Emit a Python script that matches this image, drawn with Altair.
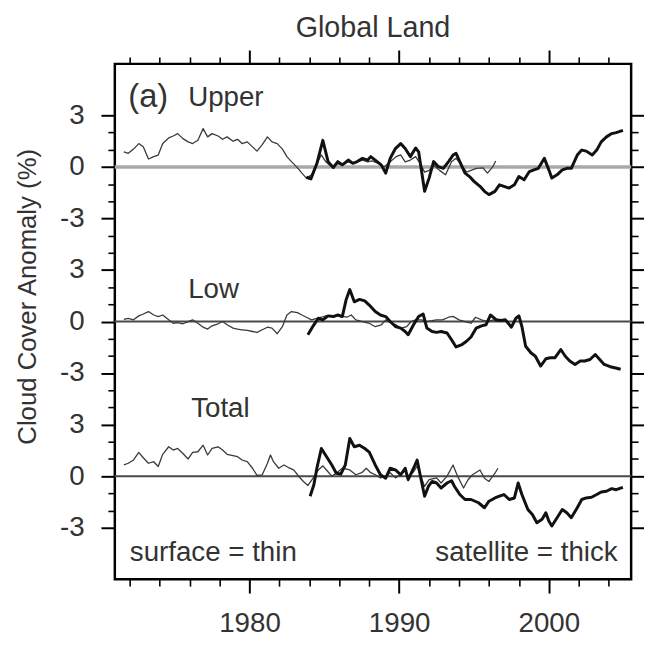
import altair as alt
import pandas as pd

# ---------------- data ----------------
upper_sfc_year = [1971.6, 1971.9, 1972.25, 1972.6, 1972.9, 1973.25, 1973.6, 1973.9, 1974.2, 1974.6,
                  1974.9, 1975.2, 1975.55, 1975.9, 1976.2, 1976.55, 1976.9, 1977.2, 1977.5, 1977.9,
                  1978.2, 1978.5, 1978.9, 1979.2, 1979.5, 1979.85, 1980.2, 1980.5, 1980.85, 1981.2,
                  1981.5, 1981.85, 1982.2, 1982.5, 1982.8, 1983.2, 1983.5, 1983.8, 1984.15, 1984.5,
                  1984.8, 1985.1, 1985.5, 1985.8, 1986.2, 1986.6, 1986.9, 1987.2, 1987.55, 1987.9,
                  1988.2, 1988.6, 1989.0, 1989.4, 1989.8, 1990.1, 1990.4, 1990.75, 1991.1, 1991.4,
                  1991.7, 1992.0, 1992.3, 1992.7, 1993.1, 1993.5, 1993.8, 1994.1, 1994.5, 1994.8,
                  1995.15, 1995.6, 1995.9, 1996.25, 1996.45]
upper_sfc_val = [0.88, 0.79, 1.04, 1.36, 1.17, 0.46, 0.6, 0.69, 1.36, 1.69,
                 1.8, 1.94, 1.65, 1.46, 1.36, 1.55, 2.23, 1.75, 1.94, 1.8,
                 1.61, 1.75, 1.5, 1.61, 1.36, 1.46, 1.17, 0.92, 1.3, 1.75,
                 1.46, 1.36, 1.04, 0.6, 0.31, -0.04, -0.36, -0.65, -0.46, 0.21,
                 0.7, 0.3, 0.0, 0.2, 0.1, 0.3, 0.2, 0.3, 0.4, 0.3,
                 0.35, 0.2, 0.0, 0.3, 0.6, 0.7, 0.3, 0.4, 0.6, 0.2,
                 -0.3, -0.2, 0.1, -0.2, -0.46, 0.3, 0.5, 0.2, -0.3, -0.2,
                 -0.08, -0.05, -0.36, 0.0, 0.35]

upper_sat_year = [1983.8, 1984.1, 1984.5, 1984.9, 1985.25, 1985.6, 1985.9, 1986.2, 1986.6, 1986.9,
                  1987.2, 1987.55, 1987.9, 1988.1, 1988.4, 1988.8, 1989.1, 1989.4, 1989.75, 1990.1,
                  1990.4, 1990.75, 1991.1, 1991.3, 1991.5, 1991.7, 1992.0, 1992.3, 1992.6, 1992.95,
                  1993.3, 1993.6, 1993.8, 1994.05, 1994.4, 1994.7, 1995.0, 1995.4, 1995.7, 1996.0,
                  1996.4, 1996.7, 1997.0, 1997.35, 1997.7, 1998.0, 1998.35, 1998.7, 1999.0, 1999.3,
                  1999.7, 2000.0, 2000.2, 2000.55, 2000.9, 2001.2, 2001.5, 2001.9, 2002.2, 2002.5,
                  2002.9, 2003.2, 2003.5, 2003.85, 2004.2, 2004.5, 2004.95]
upper_sat_val = [-0.6, -0.7, 0.2, 1.55, 0.31, -0.04, 0.31, 0.12, 0.4, 0.21,
                 0.31, 0.5, 0.4, 0.6, 0.4, 0.12, -0.36, 0.5, 1.07, 1.36,
                 1.07, 0.6, 1.1, 0.88, -0.27, -1.42, -0.65, 0.31, 0.02, -0.08,
                 0.31, 0.69, 0.79, 0.31, -0.36, -0.56, -0.84, -1.13, -1.42, -1.61,
                 -1.42, -1.04, -1.13, -1.23, -1.04, -0.56, -0.75, -0.27, -0.17, -0.08,
                 0.5, -0.17, -0.65, -0.46, -0.17, -0.08, -0.08, 0.69, 0.98, 0.92,
                 0.69, 0.98, 1.46, 1.75, 1.94, 2.0, 2.13]

low_sfc_year = [1971.6, 1971.9, 1972.25, 1972.6, 1972.9, 1973.25, 1973.6, 1973.9, 1974.2, 1974.6,
                1974.9, 1975.2, 1975.55, 1975.9, 1976.2, 1976.55, 1976.9, 1977.2, 1977.5, 1977.9,
                1978.2, 1978.5, 1978.9, 1979.2, 1979.5, 1979.85, 1980.2, 1980.5, 1980.85, 1981.2,
                1981.5, 1981.85, 1982.2, 1982.5, 1982.8, 1983.2, 1983.5, 1983.8, 1984.15, 1984.5,
                1984.8, 1985.1, 1985.5, 1985.8, 1986.1, 1986.5, 1986.8, 1987.1, 1987.55, 1988.0,
                1988.4, 1988.8, 1989.1, 1989.5, 1989.8, 1990.1, 1990.5, 1990.8, 1991.1, 1991.5,
                1991.8, 1992.2, 1992.5, 1992.9, 1993.3, 1993.6, 1994.0, 1994.4, 1994.8, 1995.1,
                1995.5, 1995.9, 1996.3, 1996.6]
low_sfc_val = [0.13, 0.19, 0.1, 0.33, 0.44, 0.58, 0.38, 0.29, 0.38, 0.1,
               -0.1, -0.06, -0.13, 0.0, 0.1, -0.1, -0.33, -0.44, -0.25, -0.13,
               0.0, -0.19, -0.38, -0.44, -0.48, -0.52, -0.58, -0.63, -0.48, -0.33,
               -0.38, -0.71, -0.29, 0.38, 0.58, 0.52, 0.38, 0.25, 0.1, 0.19,
               0.25, 0.33, 0.29, 0.38, 0.33, 0.25, 0.38, 0.1, 0.0, -0.1,
               -0.3, -0.2, 0.1, -0.1, -0.2, -0.4, -0.3, 0.0, 0.1, 0.1,
               0.0, 0.05, 0.1, 0.1, 0.25, 0.3, 0.1, 0.0, -0.1, 0.25,
               0.1, 0.0, 0.1, 0.0]

low_sat_year = [1983.9, 1984.3, 1984.6, 1984.9, 1985.25, 1985.6, 1985.9, 1986.2, 1986.45, 1986.7,
                1987.0, 1987.35, 1987.7, 1988.0, 1988.4, 1988.75, 1989.1, 1989.4, 1989.75, 1990.1,
                1990.4, 1990.6, 1990.96, 1991.3, 1991.6, 1991.85, 1992.2, 1992.5, 1992.8, 1993.2,
                1993.5, 1993.8, 1994.2, 1994.5, 1994.8, 1995.15, 1995.5, 1995.8, 1996.1, 1996.5,
                1996.8, 1997.1, 1997.5, 1997.8, 1998.0, 1998.2, 1998.45, 1998.8, 1999.1, 1999.45,
                1999.8, 2000.1, 2000.4, 2000.8, 2001.1, 2001.4, 2001.75, 2002.1, 2002.4, 2002.75,
                2003.1, 2003.4, 2003.7, 2004.1, 2004.4, 2004.8]
low_sat_val = [-0.77, -0.19, 0.19, 0.1, 0.33, 0.29, 0.38, 0.29, 1.25, 1.86,
               1.15, 1.29, 1.2, 0.96, 0.58, 0.38, 0.29, 0.0, -0.29, -0.38,
               -0.58, -0.77, -0.19, 0.29, 0.44, -0.38, -0.58, -0.63, -0.58, -0.67,
               -1.06, -1.48, -1.34, -1.15, -0.9, -0.38, -0.25, -0.19, 0.38, 0.1,
               0.06, 0.1, -0.33, 0.19, 0.33, -0.29, -1.44, -1.82, -2.02, -2.59,
               -2.17, -2.11, -2.11, -1.63, -2.02, -2.3, -2.5, -2.3, -2.3, -2.21,
               -1.92, -2.21, -2.5, -2.63, -2.69, -2.78]

total_sfc_year = [1971.6, 1971.9, 1972.25, 1972.6, 1972.9, 1973.25, 1973.6, 1973.9, 1974.2, 1974.6,
                  1974.9, 1975.2, 1975.55, 1975.9, 1976.2, 1976.55, 1976.9, 1977.2, 1977.5, 1977.9,
                  1978.2, 1978.5, 1978.9, 1979.2, 1979.5, 1979.85, 1980.2, 1980.5, 1980.85, 1981.2,
                  1981.4, 1981.6, 1981.95, 1982.3, 1982.6, 1982.95, 1983.3, 1983.6, 1983.9, 1984.25,
                  1984.6, 1984.9, 1985.2, 1985.5, 1985.8, 1986.2, 1986.7, 1987.1, 1987.5, 1987.8,
                  1988.1, 1988.4, 1988.75, 1989.1, 1989.4, 1989.75, 1990.1, 1990.4, 1990.6, 1991.0,
                  1991.2, 1991.4, 1991.7, 1992.0, 1992.5, 1992.8, 1993.2, 1993.6, 1993.9, 1994.3,
                  1994.6, 1994.9, 1995.4, 1995.7, 1996.0, 1996.4, 1996.6]
total_sfc_val = [0.65, 0.75, 0.94, 1.38, 1.07, 0.75, 0.84, 0.56, 1.27, 1.71,
                 1.52, 1.61, 1.32, 1.0, 1.38, 1.42, 1.8, 1.23, 1.61, 1.71,
                 1.52, 1.27, 1.19, 1.13, 0.94, 0.84, 0.46, 0.04, 0.08, 0.75,
                 1.23, 0.84, 0.46, 0.65, 0.5, 0.36, -0.02, -0.31, -0.54, -0.12,
                 0.36, 0.6, 0.3, 0.0, 0.17, 0.46, 0.36, 0.08, 0.2, 0.46,
                 0.2, 0.08, -0.1, 0.0, 0.2, -0.1, 0.1, 0.3, -0.1, 0.3,
                 0.6, 0.1, -0.6, -0.2, -0.1, -0.4, 0.0, 0.65, 0.0, -0.69,
                 -0.21, 0.08, 0.36, -0.12, -0.31, 0.17, 0.46]

total_sat_year = [1984.05, 1984.3, 1984.5, 1984.8, 1985.15, 1985.5, 1985.8, 1986.1, 1986.4, 1986.7,
                  1987.0, 1987.35, 1987.7, 1988.0, 1988.4, 1988.75, 1989.1, 1989.4, 1989.75, 1990.1,
                  1990.4, 1990.6, 1990.96, 1991.2, 1991.4, 1991.7, 1991.95, 1992.2, 1992.5, 1992.8,
                  1993.2, 1993.5, 1993.7, 1994.05, 1994.4, 1994.8, 1995.3, 1995.7, 1996.0, 1996.4,
                  1996.7, 1997.0, 1997.35, 1997.7, 1997.95, 1998.2, 1998.6, 1998.9, 1999.2, 1999.55,
                  1999.8, 2000.0, 2000.2, 2000.55, 2000.9, 2001.2, 2001.5, 2001.9, 2002.2, 2002.5,
                  2002.85, 2003.2, 2003.5, 2003.85, 2004.2, 2004.5, 2004.95]
total_sat_val = [-1.17, -0.5, 0.46, 1.61, 1.13, 0.65, 0.17, 0.12, 0.65, 2.19,
                 1.71, 1.8, 1.61, 1.4, 0.65, 0.08, -0.12, 0.46, 0.36, 0.08,
                 0.46, -0.21, 0.46, 0.94, 0.08, -1.17, -0.6, -0.31, -0.4, -0.69,
                 -0.4, -0.27, -0.6, -1.07, -1.36, -1.36, -1.55, -1.84, -1.46, -1.27,
                 -1.17, -1.07, -1.36, -1.27, -0.4, -1.07, -1.94, -2.23, -2.71, -2.51,
                 -2.13, -2.61, -2.9, -2.42, -1.94, -2.13, -2.42, -1.84, -1.36, -1.27,
                 -1.23, -1.07, -0.92, -0.88, -0.73, -0.79, -0.65]

panels = ["Upper", "Low", "Total"]
x_major = [1980, 1990, 2000]
x_minor = [1972, 1974, 1976, 1978, 1982, 1984, 1986, 1988, 1992, 1994, 1996, 1998, 2002, 2004]
y_major = [-12, -9, -6, -3, 0, 3, 6, 9, 12]
y_minor = [-11, -10, -8, -7, -5, -4, -2, -1, 1, 2, 4, 5, 7, 8, 10, 11]

series = [
    ("Upper", "surface", upper_sfc_year, upper_sfc_val),
    ("Upper", "satellite", upper_sat_year, upper_sat_val),
    ("Low", "surface", low_sfc_year, low_sfc_val),
    ("Low", "satellite", low_sat_year, low_sat_val),
    ("Total", "surface", total_sfc_year, total_sfc_val),
    ("Total", "satellite", total_sat_year, total_sat_val),
]
rows = []
for panel, src, yrs, vals in series:
    for yr, v in zip(yrs, vals):
        rows.append({"year": yr, "anom": v, "panel": panel, "source": src})
df = pd.DataFrame(rows)

zero_df = pd.DataFrame({"panel": panels, "anom": [0, 0, 0],
                        "x0": [1971, 1971, 1971], "x1": [2005.5, 2005.5, 2005.5]})

# annotation texts (positions in data units of the stacked axis)
ann_big = pd.DataFrame({"text": ["(a)"], "year": [1971.9], "yy": [12.5]})
ann_left = pd.DataFrame({"text": ["Upper", "Low", "Total", "surface = thin"],
                         "year": [1975.9, 1975.9, 1976.1, 1972.0],
                         "yy": [12.55, 1.35, -5.55, -13.95]})
ann_right = pd.DataFrame({"text": ["satellite = thick"], "year": [2004.6], "yy": [-13.95]})

# ---------------- chart ----------------
FONT = "Liberation Sans"
TXT = "#333333"
offset_expr = "datum.panel == 'Upper' ? 9 : (datum.panel == 'Low' ? 0 : -9)"
xs = alt.Scale(domain=[1971, 2005.5], nice=False, zero=False)
ys = alt.Scale(domain=[-15, 15], nice=False, zero=False)
label_expr = "'' + ((((datum.value % 9) + 12) % 9) - 3)"


def ax(orient, values, major, labels=False, title=None):
    kw = dict(orient=orient, values=values, tickSize=14 if major else 7,
              tickWidth=2 if major else 1.6, tickColor="black", domain=False,
              grid=False, labels=labels, title=title)
    if labels:
        kw.update(labelFont=FONT, labelFontSize=28, labelColor=TXT, labelPadding=17)
        if orient in ("left", "right"):
            kw.update(labelExpr=label_expr)
        else:
            kw.update(format="d")
    if title:
        kw.update(titleFont=FONT, titleFontSize=26, titleFontWeight="normal",
                  titleColor=TXT, titleX=-88, titleY=235, titleAlign="center",
                  titleBaseline="middle", titleAngle=270)
    return alt.Axis(**kw)


base = alt.Chart(df).transform_calculate(yy=f"datum.anom + ({offset_expr})")

thin = base.transform_filter("datum.source == 'surface'").mark_line(
    color="#3a3a3a", strokeWidth=1.3, strokeJoin="round").encode(
    x=alt.X("year:Q", scale=xs, axis=ax("bottom", x_major, True, labels=True)),
    y=alt.Y("yy:Q", scale=ys, axis=ax("left", y_major, True, labels=True,
                                       title="Cloud Cover Anomaly (%)")),
    detail="panel:N",
)

thick = base.transform_filter("datum.source == 'satellite'").mark_line(
    color="#111111", strokeWidth=3, strokeJoin="round").encode(
    x=alt.X("year:Q", scale=xs, axis=ax("top", x_major, True)),
    y=alt.Y("yy:Q", scale=ys, axis=ax("right", y_major, True)),
    detail="panel:N",
)

zbase = alt.Chart(zero_df).transform_calculate(yy=f"datum.anom + ({offset_expr})")
zero_dark = zbase.transform_filter("datum.panel != 'Upper'").mark_rule(
    color="#4a4a4a", strokeWidth=2).encode(
    x=alt.X("x0:Q", scale=xs, axis=ax("bottom", x_minor, False)),
    x2="x1:Q",
    y=alt.Y("yy:Q", scale=ys, axis=ax("left", y_minor, False)),
)
zero_grey = zbase.transform_filter("datum.panel == 'Upper'").mark_rule(
    color="#a8a8a8", strokeWidth=3.5).encode(
    x=alt.X("x0:Q", scale=xs, axis=ax("top", x_minor, False)),
    x2="x1:Q",
    y=alt.Y("yy:Q", scale=ys, axis=ax("right", y_minor, False)),
)

txt_big = alt.Chart(ann_big).mark_text(
    font=FONT, fontSize=33, color=TXT, align="left", baseline="alphabetic").encode(
    x=alt.X("year:Q", scale=xs, axis=None), y=alt.Y("yy:Q", scale=ys, axis=None), text="text:N")
txt_left = alt.Chart(ann_left).mark_text(
    font=FONT, fontSize=28, color=TXT, align="left", baseline="alphabetic").encode(
    x=alt.X("year:Q", scale=xs, axis=None), y=alt.Y("yy:Q", scale=ys, axis=None), text="text:N")
txt_right = alt.Chart(ann_right).mark_text(
    font=FONT, fontSize=28, color=TXT, align="right", baseline="alphabetic").encode(
    x=alt.X("year:Q", scale=xs, axis=None), y=alt.Y("yy:Q", scale=ys, axis=None), text="text:N")

chart = alt.layer(zero_dark, zero_grey, thin, thick, txt_big, txt_left, txt_right).resolve_axis(
    x="independent", y="independent"
).properties(
    width=522, height=521,
    title=alt.TitleParams("Global Land", font=FONT, fontSize=29, fontWeight="normal",
                          color=TXT, anchor="middle", offset=6),
    autosize=alt.AutoSizeParams(type="none"),
    padding={"left": 108, "top": 53, "right": 13, "bottom": 60},
).configure_view(stroke="black", strokeWidth=2.5)

chart.save("out.html", embed_options={"renderer": "svg", "actions": False})
